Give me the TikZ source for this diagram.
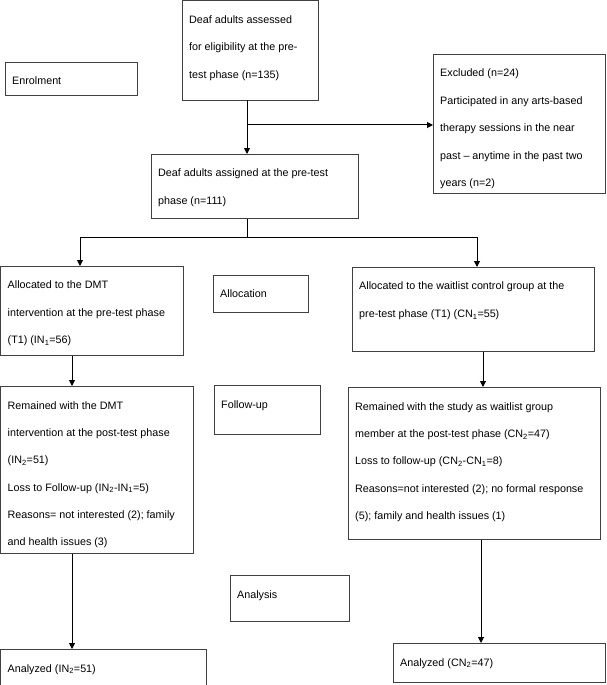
\documentclass[tikz,border=0pt]{standalone}
\usepackage{fontspec}
\setmainfont{Liberation Sans}
\usetikzlibrary{arrows.meta}
\begin{document}
\begin{tikzpicture}[x=1bp,y=-1bp,
  box/.style={draw=black!75,line width=0.8bp,anchor=north west,inner sep=0pt},
  txt/.style={anchor=north west,align=left,inner sep=0pt,font=\fontsize{10.8}{27.5}\selectfont},
  arr/.style={line width=1bp,-{Triangle[length=6bp,width=6bp]}}]
\useasboundingbox (0,0) rectangle (607,685);
\newcommand\bx[6]{\node[box,minimum width=#4bp,minimum height=#5bp] (#1) at (#2,#3) {};
  \node[txt] (#1t) at ([xshift=7bp,yshift=-15bp]#1.north west) {#6};}
\bx{top}{182}{0.5}{136}{99}{Deaf adults assessed\\for eligibility at the pre-\\test phase (n=135)}
\bx{enr}{5}{62}{132}{33}{Enrolment}
\bx{exc}{433}{54}{172}{139}{Excluded (n=24)\\Participated in any arts-based\\therapy sessions in the near\\past -- anytime in the past two\\years (n=2)}
\bx{asg}{151}{154}{207}{64}{Deaf adults assigned at the pre-test\\phase (n=111)}
\bx{dmt}{0.5}{266}{182}{89}{Allocated to the DMT\\intervention at the pre-test phase\\(T1) (IN\textsubscript{1}=56)}
\bx{alc}{213}{275}{95}{37}{Allocation}
\bx{wl}{352}{267}{242}{84}{Allocated to the waitlist control group at the\\pre-test phase (T1) (CN\textsubscript{1}=55)}
\bx{rdmt}{0.5}{386}{192}{167}{Remained with the DMT\\intervention at the post-test phase\\(IN\textsubscript{2}=51)\\Loss to Follow-up (IN\textsubscript{2}-IN\textsubscript{1}=5)\\Reasons= not interested (2); family\\and health issues (3)}
\bx{fu}{214}{385}{106}{49}{Follow-up}
\bx{rwl}{348}{387}{252}{152}{Remained with the study as waitlist group\\member at the post-test phase (CN\textsubscript{2}=47)\\Loss to follow-up (CN\textsubscript{2}-CN\textsubscript{1}=8)\\Reasons=not interested (2); no formal response\\(5); family and health issues (1)}
\bx{ana}{230}{575}{119}{46}{Analysis}
\bx{adl}{0.5}{649}{205}{35.5}{Analyzed (IN\textsubscript{2}=51)}
\bx{adr}{393}{643}{212}{39}{Analyzed (CN\textsubscript{2}=47)}
\draw[arr] (top.south -| 247,0) -- (asg.north -| 247,0);
\coordinate (j) at (247,125);
\draw[arr] (j) -- (exc.west |- j);
\coordinate (jl) at (80,237); \coordinate (jr) at (477,237);
\draw[line width=1bp] (asg.south -| 247,0) -- (247,237);
\draw[line width=1bp] (jl) -- (jr);
\draw[arr] (jl) -- (dmt.north -| jl);
\draw[arr] (jr) -- (wl.north -| jr);
\draw[arr] (dmt.south -| 72,0) -- (rdmt.north -| 72,0);
\draw[arr] (wl.south -| 483,0) -- (rwl.north -| 483,0);
\draw[arr] (rdmt.south -| 72,0) -- (adl.north -| 72,0);
\draw[arr] (rwl.south -| 481,0) -- (adr.north -| 481,0);
\end{tikzpicture}
\end{document}
